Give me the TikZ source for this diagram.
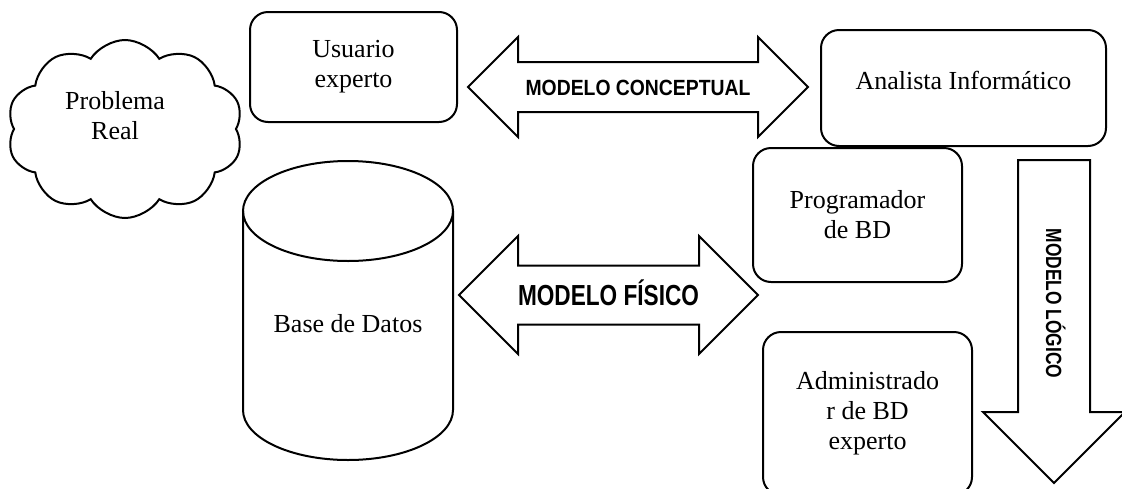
\documentclass[tikz,border=0pt]{standalone}
\usepackage{fontspec}
\setmainfont{Liberation Serif}
\newfontfamily\arrowfont{Liberation Sans}
\usetikzlibrary{shapes.symbols,shapes.arrows}
\newcommand{\squeeze}[2]{\scalebox{#1}[1]{#2}}

\begin{document}
\begin{tikzpicture}[
        x=1pt, y=-1pt,
        outline/.style={draw=black, line width=2pt},
        actor/.style={outline, rectangle, rounded corners=18pt, align=center, font=\fontsize{26}{30}\selectfont},
        problem/.style={outline, cloud, cloud puffs=10, cloud puff arc=115, aspect=1.35, minimum width=236pt, minimum height=178pt},
        bodytext/.style={align=center, font=\fontsize{26}{30}\selectfont},
        modelarrow/.style={outline, double arrow, double arrow tip angle=90, minimum width=1pt, text depth=0pt, font=\arrowfont\bfseries},
        downarrow/.style={outline, single arrow, single arrow tip angle=90, minimum width=1pt, text depth=0pt, font=\arrowfont\bfseries}
    ]
    \useasboundingbox (0,0) rectangle (1122,488);

    % Problem and users
    \node[problem] (real) at (125,129) {};
    \node[bodytext] (realtxt) at (115,116) {Problema\\Real};
    \node[actor, minimum width=207pt, minimum height=110pt] (usuario) at (353.5,67) {Usuario\\experto};
    \node[actor, minimum width=285pt, minimum height=116pt] (analista) at (963.5,88) {Analista Inform\'atico\\[-14pt]\mbox{}};
    \node[actor, minimum width=209pt, minimum height=134pt] (programador) at (857.5,215) {Programador\\de BD};
    \node[actor, minimum width=209pt, minimum height=163pt] (admin) at (867.5,413.5) {Administrado\\r de BD\\experto};

    % Database
    \draw[outline] (243,211) -- (243,410) arc[start angle=180, end angle=0, x radius=105, y radius=50] -- (453,211);
    \draw[outline] (348,211) ellipse[x radius=105, y radius=50];
    \node[bodytext] (bd) at (348,324) {Base de Datos};

    % Models
    \node[modelarrow, minimum height=340pt, text height=16pt, inner ysep=16pt, double arrow head extend=25pt, font=\arrowfont\bfseries\fontsize{22}{26}\selectfont] (conceptual) at (638,87) {\squeeze{0.88}{MODELO CONCEPTUAL}};
    \node[modelarrow, minimum height=299pt, text height=21pt, inner ysep=18pt, double arrow head extend=29.5pt, font=\arrowfont\bfseries\fontsize{29}{33}\selectfont] (fisico) at (608.5,295) {\squeeze{0.78}{MODELO F\'ISICO}};
    \node[downarrow, rotate=-90, anchor=tail, minimum height=323pt, text height=16pt, inner ysep=27pt, single arrow head extend=35pt, font=\arrowfont\bfseries\fontsize{22}{26}\selectfont] (logico) at (1054,159) {\squeeze{0.79}{MODELO L\'OGICO}};

    \end{tikzpicture}
\end{document}
